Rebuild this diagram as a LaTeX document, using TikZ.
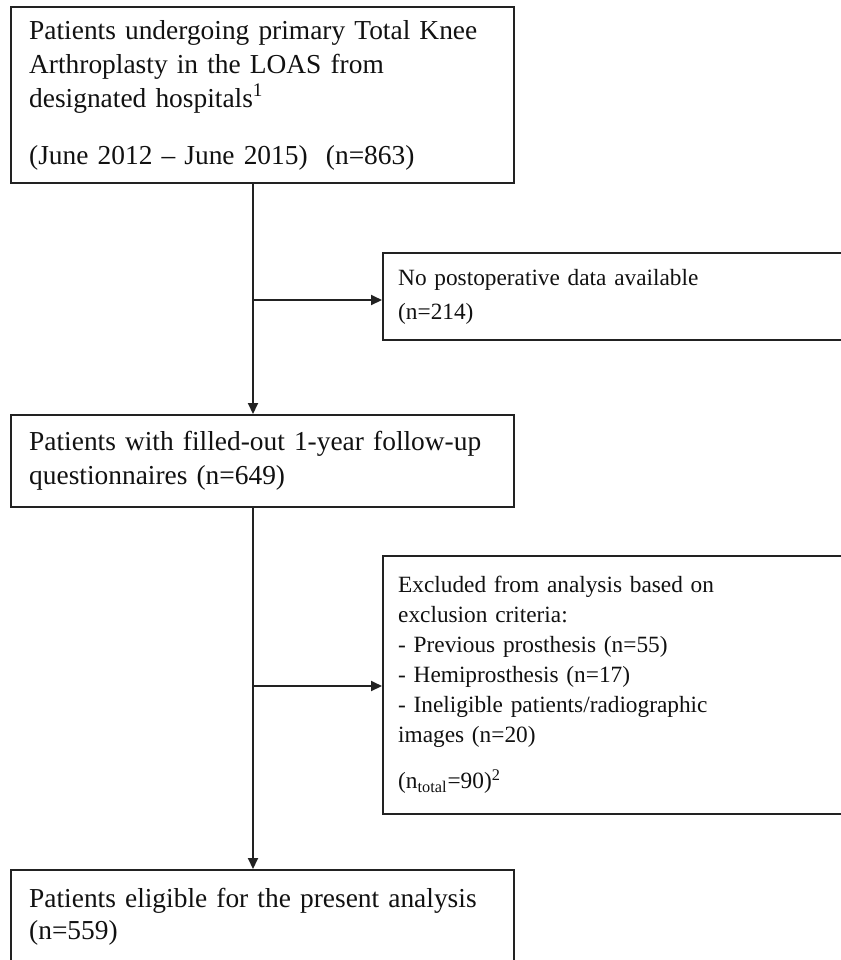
\documentclass[tikz,border=0pt]{standalone}
\usepackage{fontspec}
\setmainfont{Liberation Serif}
\usetikzlibrary{arrows.meta}
\definecolor{linec}{HTML}{222222}
\definecolor{txt}{HTML}{111111}
\begin{document}
\begin{tikzpicture}[x=0.5pt,y=-0.5pt,
  box/.style={draw=linec, line width=1.2pt, anchor=north west, align=left, text=txt, inner ysep=0pt},
  bigtext/.style={font=\fontsize{13.7pt}{17pt}\selectfont, inner xsep=9pt},
  smalltext/.style={font=\fontsize{11.65pt}{15pt}\selectfont, inner xsep=7.5pt},
  conn/.style={draw=linec, line width=1pt},
  arr/.style={conn, -{Triangle[length=5.5pt,width=5pt]}}]
\useasboundingbox (0,0) rectangle (841,960);
\fill[white] (0,0) rectangle (841,960);
\clip (0,0) rectangle (841,960);

\node[box,bigtext,minimum width=251.5pt,minimum height=88pt,text width=233.5pt] (b1) at (10,6)
  {Patients undergoing primary Total Knee\\Arthroplasty in the LOAS from\\designated hospitals\textsuperscript{1}\\[11.5pt](June 2012 – June 2015)\ \ (n=863)};

\node[box,smalltext,font=\fontsize{11.65pt}{17pt}\selectfont,minimum width=231.5pt,minimum height=43.5pt,text width=216.5pt] (b2) at (382,252)
  {No postoperative data available\\(n=214)};

\node[box,bigtext,minimum width=251.5pt,minimum height=46pt,text width=233.5pt] (b3) at (10,414)
  {Patients with filled-out 1-year follow-up\\questionnaires (n=649)};

\node[box,smalltext,minimum width=231.5pt,minimum height=129pt,text width=216.5pt] (b4) at (382,555)
  {Excluded from analysis based on\\exclusion criteria:\\- Previous prosthesis (n=55)\\- Hemiprosthesis (n=17)\\- Ineligible patients/radiographic\\images (n=20)\\[8pt](n\textsubscript{total}=90)\textsuperscript{2}};

\node[box,bigtext,font=\fontsize{13.7pt}{16pt}\selectfont,minimum width=251.5pt,minimum height=47pt,text width=233.5pt] (b5) at (10,869)
  {Patients eligible for the present analysis\\(n=559)};

\coordinate (vx) at (253,0);
\coordinate (j1) at (253,300);
\coordinate (j2) at (253,686);

\draw[arr] (b1.south -| vx) -- (b3.north -| vx);
\draw[arr] (j1) -- (j1 -| b2.west);
\draw[arr] (b3.south -| vx) -- (b5.north -| vx);
\draw[arr] (j2) -- (j2 -| b4.west);
\end{tikzpicture}
\end{document}
